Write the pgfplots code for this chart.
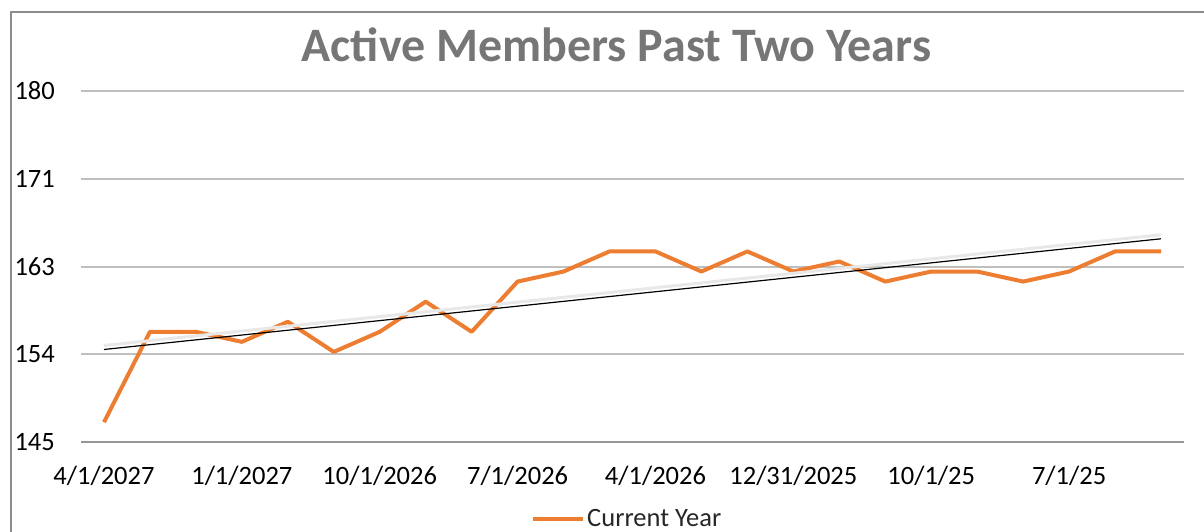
\documentclass[border=0pt]{standalone}
\usepackage{pgfplots}
\usepackage{pgfplotstable}
\pgfplotsset{compat=1.18}
\usepackage{fontspec}
\setmainfont{Carlito}
\definecolor{exorange}{RGB}{237,125,49}
\definecolor{gridgray}{RGB}{191,191,191}
\definecolor{axgray}{RGB}{150,150,150}
\definecolor{framegray}{RGB}{140,140,140}
\definecolor{titlegray}{RGB}{118,118,118}

\pgfplotstableread{
x y
1 147
2 156
3 156
4 155
5 157
6 154
7 156
8 159
9 156
10 161
11 162
12 164
13 164
14 162
15 164
16 162
17 163
18 161
19 162
20 162
21 161
22 162
23 164
24 164
}\datatable

\begin{document}
\begin{tikzpicture}
\useasboundingbox (0pt,0pt) rectangle (1204pt,531pt);
\draw[framegray, line width=2.3pt] (11pt,-10pt) -- (11pt,519pt) -- (1215pt,519pt);
\begin{axis}[
  at={(81pt,88.7pt)}, anchor=south west,
  scale only axis, width=1103pt, height=351.6pt,
  xmin=0.5, xmax=24.5, ymin=145, ymax=180,
  axis line style={draw=none},
  major tick length=0pt,
  ytick={153.75,162.5,171.25,180},
  yticklabels={154,163,171,180},
  extra y ticks={145}, extra y tick labels={145},
  extra y tick style={grid style={axgray, line width=2pt}},
  ymajorgrids,
  grid style={gridgray, line width=2pt},
  xtick={1,4,7,10,13,16,19,22},
  xticklabels={4/1/2027,1/1/2027,10/1/2026,7/1/2026,4/1/2026,12/31/2025,10/1/25,7/1/25},
  tick label style={font=\fontsize{26.5pt}{30pt}\selectfont, text=black},
  yticklabel style={anchor=east, inner sep=0pt, xshift=-26pt},
  xticklabel style={anchor=base, inner sep=0pt, yshift=-42pt},
  every axis title shift=0pt,
  title={Active Members Past Two Years},
  title style={at={(0.4855,1.0825)}, anchor=base, inner sep=0pt, text=titlegray, font=\fontsize{48pt}{52pt}\selectfont\bfseries},
  legend image code/.code={\draw[#1, line width=4pt] (0pt,0pt) -- (50pt,0pt);},
  legend style={draw=none, fill=none, at={(0.408,-0.218)}, anchor=west, inner sep=0pt,
     font=\fontsize{26.5pt}{30pt}\selectfont, text=black!85},
  clip=false,
]
\addplot[exorange, line width=4pt, line join=round] table[x=x, y=y] {\datatable};
\addlegendentry{Current Year}
\addplot[gray!18, line width=3pt, yshift=4pt, forget plot] table[x=x, y={create col/linear regression={y=y}}] {\datatable};
\addplot[black, line width=1.2pt, forget plot] table[x=x, y={create col/linear regression={y=y}}] {\datatable};
\end{axis}
\end{tikzpicture}
\end{document}
